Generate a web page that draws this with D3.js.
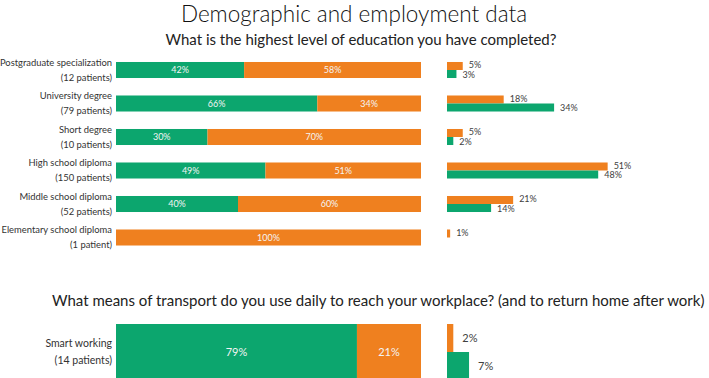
<!DOCTYPE html>
<html>
<head>
<meta charset="utf-8">
<script src="https://cdn.jsdelivr.net/npm/d3@7"></script>
<style>
  body { margin: 0; background: #fff; }
  text { font-family: Lato, "Open Sans", sans-serif; }
</style>
</head>
<body>
<svg id="vis" width="709" height="378"></svg>
<script>
// education question
const eduCategories = ["Postgraduate specialization", "University degree", "Short degree",
    "High school diploma", "Middle school diploma", "Elementary school diploma"];
const eduPatients = ["(12 patients)", "(79 patients)", "(10 patients)", "(150 patients)", "(52 patients)", "(1 patient)"];
const eduGreenShare = [42, 66, 30, 49, 40, 0];
const eduOrangeShare = [58, 34, 70, 51, 60, 100];
const eduOrangeDist = [5, 18, 5, 51, 21, 1];
const eduGreenDist = [3, 34, 2, 48, 14, 0];

// transport question
const trCategories = ["Smart working"];
const trPatients = ["(14 patients)"];
const trGreenShare = [79];
const trOrangeShare = [21];
const trOrangeDist = [2];
const trGreenDist = [7];

const green = "#0ca66e";
const orange = "#ef801f";

function section(svg, cfg) {
    let rows = cfg.cats.map((c, i) => ({
        cat: c, pat: cfg.pats[i],
        g: cfg.gShare[i], o: cfg.oShare[i],
        od: cfg.oDist[i], gd: cfg.gDist[i]
    }));

    let y = d3.scaleBand().domain(cfg.cats).range(cfg.yRange)
        .paddingInner(cfg.pad).paddingOuter(cfg.pad / 2);
    let x = d3.scaleLinear().domain([0, 100]).range([116, 421]);
    let xr = d3.scaleLinear().domain([0, 100]).range([447, 447 + 315]);
    let sub = d3.scaleBand().domain(["o", "g"]).range([0, y.bandwidth()]);

    let g = svg.append("g");

    // left labels
    let lab = g.selectAll(".lab").data(rows).enter().append("text")
        .attr("text-anchor", "end")
        .attr("font-size", cfg.labSize)
        .attr("fill", "#333");
    lab.append("tspan")
        .attr("x", 112)
        .attr("y", (d) => y(d.cat) + y.bandwidth() / 2 - cfg.lineGap / 2)
        .attr("dy", "0.35em")
        .text((d) => d.cat);
    lab.append("tspan")
        .attr("x", 112)
        .attr("y", (d) => y(d.cat) + y.bandwidth() / 2 + cfg.lineGap / 2)
        .attr("dy", "0.35em")
        .text((d) => d.pat);

    // stacked bars
    g.selectAll(".gbar").data(rows.filter((d) => d.g > 0)).enter().append("rect")
        .attr("x", x(0))
        .attr("y", (d) => y(d.cat))
        .attr("width", (d) => x(d.g) - x(0))
        .attr("height", y.bandwidth())
        .attr("fill", green);
    g.selectAll(".obar").data(rows).enter().append("rect")
        .attr("x", (d) => x(d.g))
        .attr("y", (d) => y(d.cat))
        .attr("width", (d) => x(d.g + d.o) - x(d.g))
        .attr("height", y.bandwidth())
        .attr("fill", orange);

    g.selectAll(".gtxt").data(rows.filter((d) => d.g > 0)).enter().append("text")
        .attr("x", (d) => (x(0) + x(d.g)) / 2)
        .attr("y", (d) => y(d.cat) + y.bandwidth() / 2)
        .attr("dy", "0.35em")
        .attr("text-anchor", "middle")
        .attr("font-family", cfg.barFont)
        .attr("font-size", cfg.barSize)
        .attr("fill", "#f4f4f4")
        .text((d) => d.g + "%");
    g.selectAll(".otxt").data(rows).enter().append("text")
        .attr("x", (d) => (x(d.g) + x(d.g + d.o)) / 2)
        .attr("y", (d) => y(d.cat) + y.bandwidth() / 2)
        .attr("dy", "0.35em")
        .attr("text-anchor", "middle")
        .attr("font-family", cfg.barFont)
        .attr("font-size", cfg.barSize)
        .attr("fill", "#f4f4f4")
        .text((d) => d.o + "%");

    // distribution bars on the right
    let dist = [];
    rows.forEach((d) => {
        dist.push({ cat: d.cat, k: "o", v: d.od });
        if (d.gd > 0) dist.push({ cat: d.cat, k: "g", v: d.gd });
    });
    g.selectAll(".dbar").data(dist).enter().append("rect")
        .attr("x", xr(0))
        .attr("y", (d) => y(d.cat) + sub(d.k))
        .attr("width", (d) => Math.max(xr(d.v) - xr(0), 2))
        .attr("height", sub.bandwidth())
        .attr("fill", (d) => d.k == "o" ? orange : green);
    g.selectAll(".dtxt").data(dist).enter().append("text")
        .attr("x", (d) => Math.max(xr(d.v), xr(0) + 2) + cfg.labOff)
        .attr("y", (d) => y(d.cat) + sub(d.k) + sub.bandwidth() / 2 + (d.k == "o" ? -cfg.nudge : cfg.nudge))
        .attr("dy", "0.35em")
        .attr("font-family", cfg.barFont)
        .attr("font-size", cfg.distSize)
        .attr("fill", "#404040")
        .text((d) => d.v + "%");
}

function draw() {
    let svg = d3.select("#vis");

    svg.append("text")
        .attr("x", 354).attr("y", 22)
        .attr("text-anchor", "middle")
        .attr("font-size", 22.5)
        .attr("font-weight", 300)
        .attr("fill", "#111")
        .text("Demographic and employment data");
    svg.append("text")
        .attr("x", 361).attr("y", 45)
        .attr("text-anchor", "middle")
        .attr("font-size", 15)
        .attr("fill", "#222")
        .text("What is the highest level of education you have completed?");
    svg.append("text")
        .attr("x", 52).attr("y", 306)
        .attr("font-size", 15)
        .attr("fill", "#222")
        .text("What means of transport do you use daily to reach your workplace? (and to return home after work)");

    section(svg, {
        cats: eduCategories, pats: eduPatients,
        gShare: eduGreenShare, oShare: eduOrangeShare,
        oDist: eduOrangeDist, gDist: eduGreenDist,
        yRange: [53.25, 254.25], pad: 0.522,
        labSize: 9.4, lineGap: 15, barFont: "DejaVu Sans", barSize: 9,
        distSize: 9, labOff: 6, nudge: 0.8
    });
    section(svg, {
        cats: trCategories, pats: trPatients,
        gShare: trGreenShare, oShare: trOrangeShare,
        oDist: trOrangeDist, gDist: trGreenDist,
        yRange: [324, 380], pad: 0,
        labSize: 10.5, lineGap: 17, barFont: "Lato", barSize: 11,
        distSize: 11, labOff: 9, nudge: 0
    });
}

document.addEventListener("DOMContentLoaded", draw);
</script>
</body>
</html>
